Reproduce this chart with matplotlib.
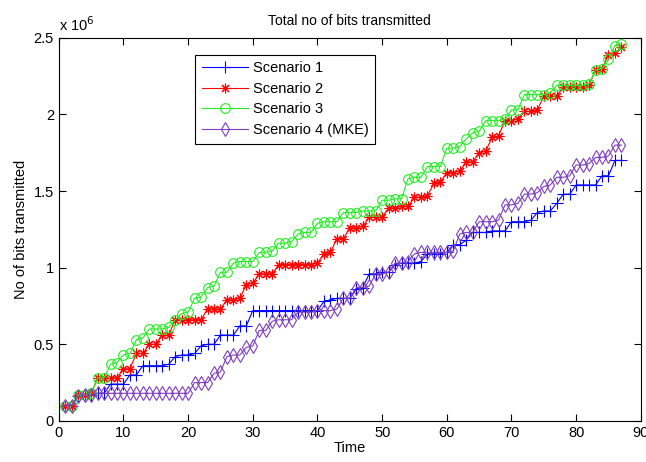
import matplotlib
matplotlib.use("Agg")
import matplotlib.pyplot as plt
import numpy as np

# time axis (one sample per time step)
time = np.arange(1, 88)

# cumulative bits transmitted, in units of 1e6
scenario1 = [0.10, 0.10, 0.16, 0.17, 0.17, 0.18, 0.18, 0.24, 0.24, 0.24,
             0.30, 0.30, 0.36, 0.36, 0.36, 0.36, 0.37, 0.42, 0.43, 0.43,
             0.44, 0.49, 0.50, 0.50, 0.56, 0.56, 0.56, 0.62, 0.62, 0.72,
             0.72, 0.72, 0.72, 0.72, 0.72, 0.72, 0.72, 0.72, 0.72, 0.72,
             0.78, 0.79, 0.80, 0.80, 0.80, 0.86, 0.87, 0.96, 0.96, 0.97,
             0.97, 1.02, 1.03, 1.03, 1.03, 1.04, 1.09, 1.09, 1.09, 1.10,
             1.15, 1.15, 1.18, 1.23, 1.23, 1.23, 1.24, 1.24, 1.24, 1.30,
             1.30, 1.30, 1.31, 1.36, 1.37, 1.37, 1.42, 1.48, 1.48, 1.54,
             1.54, 1.54, 1.54, 1.60, 1.60, 1.70, 1.70]
scenario2 = [0.10, 0.10, 0.17, 0.17, 0.18, 0.28, 0.28, 0.28, 0.28, 0.34,
             0.34, 0.44, 0.44, 0.50, 0.50, 0.56, 0.56, 0.66, 0.66, 0.66,
             0.66, 0.66, 0.73, 0.73, 0.73, 0.79, 0.79, 0.80, 0.89, 0.90,
             0.96, 0.96, 0.96, 1.02, 1.02, 1.02, 1.02, 1.02, 1.02, 1.03,
             1.09, 1.10, 1.19, 1.19, 1.26, 1.26, 1.27, 1.33, 1.33, 1.33,
             1.39, 1.39, 1.40, 1.40, 1.46, 1.46, 1.47, 1.55, 1.56, 1.62,
             1.62, 1.63, 1.69, 1.69, 1.75, 1.76, 1.85, 1.86, 1.96, 1.96,
             1.97, 2.02, 2.02, 2.03, 2.12, 2.12, 2.12, 2.18, 2.18, 2.18,
             2.18, 2.19, 2.29, 2.30, 2.39, 2.40, 2.44]
scenario3 = [0.10, 0.10, 0.17, 0.17, 0.18, 0.28, 0.28, 0.37, 0.38, 0.43,
             0.44, 0.53, 0.54, 0.60, 0.60, 0.60, 0.61, 0.66, 0.70, 0.71,
             0.80, 0.81, 0.87, 0.88, 0.97, 0.97, 1.03, 1.04, 1.04, 1.04,
             1.10, 1.10, 1.11, 1.16, 1.16, 1.17, 1.22, 1.23, 1.23, 1.29,
             1.30, 1.30, 1.30, 1.36, 1.36, 1.36, 1.37, 1.37, 1.37, 1.44,
             1.44, 1.45, 1.45, 1.58, 1.59, 1.59, 1.66, 1.66, 1.66, 1.78,
             1.78, 1.79, 1.84, 1.88, 1.89, 1.96, 1.96, 1.96, 1.97, 2.03,
             2.03, 2.13, 2.13, 2.13, 2.13, 2.14, 2.19, 2.19, 2.19, 2.19,
             2.19, 2.20, 2.29, 2.30, 2.36, 2.45, 2.46]
scenario4 = [0.10, 0.10, 0.16, 0.17, 0.17, 0.18, 0.18, 0.18, 0.18, 0.18,
             0.18, 0.18, 0.18, 0.18, 0.18, 0.18, 0.18, 0.18, 0.18, 0.18,
             0.25, 0.25, 0.25, 0.31, 0.32, 0.42, 0.43, 0.43, 0.48, 0.49,
             0.59, 0.59, 0.65, 0.66, 0.66, 0.66, 0.71, 0.71, 0.71, 0.72,
             0.72, 0.72, 0.73, 0.80, 0.80, 0.87, 0.87, 0.88, 0.96, 0.96,
             0.97, 1.03, 1.03, 1.04, 1.09, 1.10, 1.10, 1.10, 1.10, 1.10,
             1.11, 1.22, 1.23, 1.23, 1.30, 1.30, 1.30, 1.31, 1.41, 1.41,
             1.42, 1.48, 1.48, 1.49, 1.53, 1.54, 1.59, 1.59, 1.60, 1.67,
             1.67, 1.68, 1.72, 1.72, 1.73, 1.80, 1.80]

labels = ['Scenario 1', 'Scenario 2', 'Scenario 3', 'Scenario 4 (MKE)']
colors = ['#0000ff', '#ff0000', '#22ee22', '#7f3fbf']
# (8, 2, 0) gives an 8-armed asterisk
markers = ['+', (8, 2, 0), 'o', 'd']
sizes = [8, 7, 7, 7]

plt.rcParams['font.family'] = ['Liberation Sans Narrow', 'Liberation Sans', 'DejaVu Sans']

fig = plt.figure(figsize=(6.46, 4.62), dpi=100)
ax = fig.add_axes([0.091, 0.089, 0.901, 0.829])

series = [scenario1, scenario2, scenario3, scenario4]
for vals, lab, col, mk, ms in zip(series, labels, colors, markers, sizes):
    ax.plot(time, vals, color=col, marker=mk, markersize=ms, markerfacecolor='none',
            markeredgecolor=col, markeredgewidth=0.8, linewidth=0.8, label=lab)

ax.set_xlim(0, 90)
ax.set_ylim(0, 2.5)
ax.set_xticks(np.arange(0, 91, 10))
ax.set_yticks([0, 0.5, 1, 1.5, 2, 2.5])
ax.set_yticklabels(['0', '0.5', '1', '1.5', '2', '2.5'])
ax.tick_params(direction='in', top=True, right=True, length=5, labelsize=10.5)
for sp in ax.spines.values():
    sp.set_linewidth(0.8)

ax.set_xlabel('Time', fontsize=10.5, labelpad=1)
ax.set_ylabel('No of bits transmitted', fontsize=10.5, labelpad=4)
ax.set_title('Total no of bits transmitted', fontsize=10, pad=9)
ax.text(0.0, 1.01, r'x 10$^6$', transform=ax.transAxes, fontsize=10.5,
        ha='left', va='bottom')

leg = ax.legend(loc='upper left', bbox_to_anchor=(0.234, 0.956), fontsize=10.5,
                fancybox=False, edgecolor='black', framealpha=1,
                borderaxespad=0, borderpad=0.45, handlelength=3.2,
                labelspacing=0.45, handletextpad=0.3)
leg.get_frame().set_linewidth(0.8)

fig.savefig('out.png', dpi=100)
